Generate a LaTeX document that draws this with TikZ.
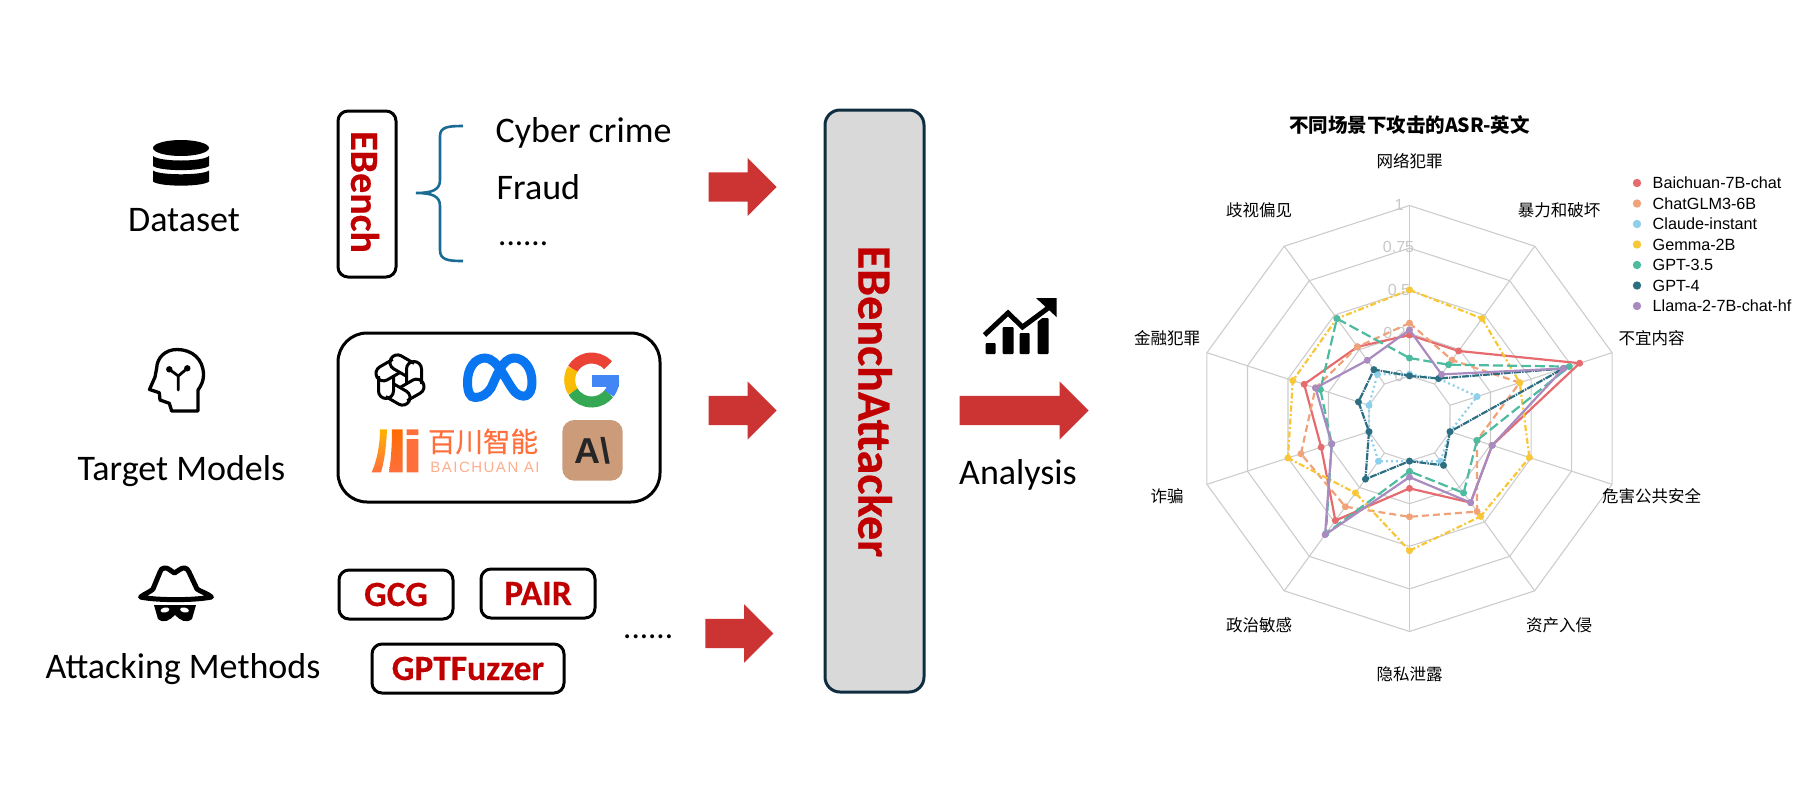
\documentclass[tikz,border=0pt]{standalone}
\usepackage{fontspec}
\setmainfont{Carlito}
\newfontfamily\cjk{Noto Sans CJK SC}
\newfontfamily\cjkmed[FakeBold=0.4]{Noto Sans CJK SC}
\newfontfamily\arial{Liberation Sans}
\usetikzlibrary{shapes.arrows, positioning, calc}

\definecolor{ebred}{HTML}{C00000}
\definecolor{arrowred}{HTML}{CC3333}
\definecolor{bracecol}{HTML}{1C6B94}
\definecolor{c1}{HTML}{E56B6F}
\definecolor{c2}{HTML}{F0A27A}
\definecolor{c3}{HTML}{8ECFE9}
\definecolor{c4}{HTML}{F7C737}
\definecolor{c5}{HTML}{4DBBA0}
\definecolor{c6}{HTML}{2E6E83}
\definecolor{c7}{HTML}{A98BBF}
\definecolor{metablue}{HTML}{0A75F0}
\definecolor{gred}{HTML}{EA4335}
\definecolor{gyellow}{HTML}{FBBC05}
\definecolor{ggreen}{HTML}{34A853}
\definecolor{gblue}{HTML}{4285F4}
\definecolor{bcorange}{HTML}{FF6F3C}
\definecolor{bclight}{HTML}{FFAD8C}
\definecolor{tile}{HTML}{CC9B7A}
\definecolor{blockedge}{HTML}{0F2D40}
\newcommand{\fsz}[1]{\fontsize{#1}{#1}\selectfont}
\newcommand{\heavy}{\bfseries\addfontfeature{FakeBold=0.5}}

\tikzset{
  txt/.style={font=\fsz{36}, inner sep=0pt},
  method/.style={draw, line width=3, rounded corners=10, text=ebred, font=\fsz{35.5}\bfseries\addfontfeature{FakeBold=0.3}, inner sep=0pt},
  blockarrow/.style={single arrow, fill=arrowred, inner sep=14.5, minimum width=58, single arrow head extend=14.5, single arrow tip angle=90, outer sep=0pt, anchor=tip},
  gridline/.style={draw=black!20, line width=1.1},
  radarlab/.style={font=\cjk\fsz{16.5}, inner sep=0pt},
  ticklab/.style={font=\arial\fsz{16}, text=black!22, inner sep=0pt},
  legtxt/.style={font=\arial\fsz{16.2}, anchor=west, inner sep=0pt},
  ser1/.style={c1, line width=2.2},
  ser2/.style={c2, line width=2.2, dash pattern=on 7pt off 4pt},
  ser3/.style={c3, line width=2.2, dash pattern=on 2pt off 3pt},
  ser4/.style={c4, line width=2.2, dash pattern=on 6pt off 2.5pt on 2pt off 2.5pt},
  ser5/.style={c5, line width=2.2, dash pattern=on 10pt off 4pt},
  ser6/.style={c6, line width=2.2, dash pattern=on 7pt off 1pt on 1.5pt off 1pt},
  ser7/.style={c7, line width=2.2}
}

% one series of the radar chart: style number, ten values
\newcommand{\radarline}[2]{
  \foreach \v [count=\i from 0] in {#2} {
    \coordinate (p\i) at ({90-36*\i}:{42.6+170.4*\v});
  }
  \draw[ser#1] (p0) -- (p1) -- (p2) -- (p3) -- (p4) -- (p5) -- (p6) -- (p7) -- (p8) -- (p9) -- cycle;
  \foreach \i in {0,...,9} {
    \fill[c#1] (p\i) circle (3.5);
  }
}

\begin{document}
\begin{tikzpicture}[x=1pt, y=-1pt]
\useasboundingbox (0,0) rectangle (1816,804);

% Dataset row
\fill (181,148) ellipse (28 and 8);
\fill (153,156) .. controls (160,162) and (202,162) .. (209,156) -- (209,166) .. controls (202,171.5) and (160,171.5) .. (153,166) -- cycle;
\fill (153,170.6) .. controls (160,175.5) and (202,175.5) .. (209,170.6) -- (209,181.6) .. controls (202,187) and (160,187) .. (153,181.6) -- cycle;
\node[txt] (dataset) at (184,220.5) {Dataset};
\draw[line width=3, rounded corners=10] (338,111) rectangle (396,277);
\node[font=\fsz{40}\heavy, text=ebred, rotate=-90, inner sep=0pt] (ebench) at (365,192) {EBench};
\draw[bracecol, line width=2.6] (463,126) .. controls (448,126) and (440,127) .. (440,136) -- (440,180)
  .. controls (440,190) and (432,193) .. (416,193) .. controls (432,193) and (440,196) .. (440,206) -- (440,250)
  .. controls (440,260) and (448,261) .. (463,261);
\node[txt, anchor=west] (cyber) at (495.5,133) {Cyber crime};
\node[txt, anchor=west] (fraud) at (496.5,187) {Fraud};
\node[font=\fsz{33}, anchor=base west, inner sep=0pt] (moreA) at (498,245) {......};

% Target models row
\draw[line width=3.3, line join=round] (198,411) -- (198,390) .. controls (201,386) and (203.5,381) .. (203.5,375)
  .. controls (203.5,359) and (192,349.5) .. (177,349.5) .. controls (165,349.5) and (157,358) .. (156.7,368)
  -- (155,377) -- (149.5,389.5) -- (159.3,392.7) -- (160,400) -- (169.3,403.3) -- (171.7,411) -- cycle;
\draw[line width=2.8, line cap=round] (178.3,390) -- (178.3,376) -- (169.3,369.3) (178.3,376) -- (187.3,368.3);
\fill (169.3,369.3) circle (3.2) (187.3,368.3) circle (3.2);
\node[txt] (target) at (181.5,471) {Target Models};
\draw[line width=3, rounded corners=29] (338,333) rectangle (660,502);

% logos
\foreach \a in {0,60,...,300} {
  \begin{scope}[shift={(400,380)}, rotate=\a, y=1pt]
    \draw[line width=3] (6.5,-3.8) -- (6.5,11) arc[start angle=180, end angle=0, radius=7.5] -- (21.5,-4);
  \end{scope}
}
\draw[line width=9, color=metablue, line cap=round] (475,397.5)
  .. controls (470,397.5) and (467.5,392) .. (467.5,382) .. controls (467.5,368) and (475,358) .. (485,358)
  .. controls (498,358) and (506,382) .. (515,392) .. controls (522,399) and (532,398) .. (532,382)
  .. controls (532,368) and (524,358) .. (514,358) .. controls (502,358) and (496,378) .. (491,388)
  .. controls (487,394) and (482,397.5) .. (475,397.5);
\begin{scope}[shift={(591.7,380)}, y=1pt]
  \draw[line width=11, color=gred] (42:22) arc[start angle=42, end angle=150, radius=22];
  \draw[line width=11, color=gyellow] (150:22) arc[start angle=150, end angle=212, radius=22];
  \draw[line width=11, color=ggreen] (212:22) arc[start angle=212, end angle=322, radius=22];
  \draw[line width=11, color=gblue] (322:22) arc[start angle=322, end angle=360, radius=22];
  \fill[gblue] (0,5) rectangle (27.5,-6.5);
\end{scope}
\path[top color=orange!60!yellow, bottom color=bcorange] (380,429.3) -- (387,429.3) .. controls (386,450) and (384,462) .. (381,472.3) -- (371.7,472.3) .. controls (377,460) and (380,445) .. (380,429.3) -- cycle;
\path[top color=orange!85!red, bottom color=bcorange] (392,429.3) -- (402.7,429.3) -- (402.7,472.3) -- (389,472.3) .. controls (391,460) and (392,445) .. (392,429.3) -- cycle;
\fill[bcorange] (406.7,429.3) rectangle (418.3,435) (406.7,439) rectangle (418.3,472.3);
\node[font=\cjkmed\fsz{27.5}, text=bcorange, inner sep=0pt] (baichuan) at (483,441.5) {百川智能};
\node[font=\arial\fsz{15}\addfontfeature{LetterSpace=10}, text=bclight, inner sep=0pt] (baichuanen) at (485,467) {BAICHUAN AI};
\fill[tile, rounded corners=12] (562.3,420) rectangle (622.7,480.7);
\node[font=\arial\fsz{36}\bfseries, text=black!85, inner sep=0pt] (anthropic) at (592.5,451) {A\textbackslash};

% Attacking methods row
\draw[line width=5, line join=round, line cap=round] (140.5,597) .. controls (146,593) and (150,592) .. (153,589) -- (160,572)
  .. controls (161,567) and (167,567) .. (170,570) -- (174.5,573) -- (179,570) .. controls (183,567) and (187,567) .. (189,572)
  -- (197,589) .. controls (201,592) and (207,593) .. (211.5,597) .. controls (195,600.5) and (156,600.5) .. (140.5,597) -- cycle;
\fill (154,605) -- (196,605) -- (192,619) .. controls (186,624) and (180,620) .. (175,615)
  .. controls (170,620) and (164,624) .. (158,619) -- cycle;
\fill[white, rotate around={12:(165,610)}] (165,610) ellipse (4.5 and 2.5);
\fill[white, rotate around={-12:(184.5,610)}] (184.5,610) ellipse (4.5 and 2.5);
\node[txt] (attacking) at (183,669) {Attacking Methods};
\node[method, minimum width=114, minimum height=49] (gcg) at (396,594.5) {GCG};
\node[method, minimum width=114, minimum height=49] (pair) at (538,593.5) {PAIR};
\node[method, minimum width=192, minimum height=49] (fuzzer) at (468,668.5) {GPTFuzzer};
\node[font=\fsz{33}, anchor=base west, inner sep=0pt] (moreB) at (623,638) {......};

% Centre block and arrows
\node[draw=blockedge, fill=black!15, line width=3, rounded corners=15, minimum width=99, minimum height=582] (attacker) at (874.5,401) {};
\node[font=\fsz{48}\heavy, text=ebred, rotate=-90, inner sep=0pt] (attackerlab) at (875,401.5) {EBenchAttacker};
\node[blockarrow, minimum height=68] (arrowA) at (776.7,187) {};
\node[blockarrow, minimum height=68] (arrowB) at (776.7,410.5) {};
\node[blockarrow, minimum height=68] (arrowC) at (773.3,633.5) {};
\node[blockarrow, minimum height=129] (arrowD) at (1088.7,410.5) {};

% Analysis
\begin{scope}[xshift=-2.5pt]
  \fill[rounded corners=1] (988,343) rectangle (998,354) (1005,327) rectangle (1016,354) (1022,333) rectangle (1032,354) (1040,318) rectangle (1051,354);
  \draw[white, line width=9] (987,335) -- (1010.5,313) -- (1025,327) -- (1052,307);
  \draw[line width=5] (987,335) -- (1010.5,313) -- (1025,327) -- (1052,307);
  \fill (1038.5,298) -- (1059,298) -- (1059,317) -- cycle;
\end{scope}
\node[txt] (analysis) at (1018,474.5) {Analysis};

% Radar chart
\node[font=\cjk\fsz{19.5}\bfseries, inner sep=0pt] (title) at (1409.5,124.5) {不同场景下攻击的ASR-英文};
\begin{scope}[shift={(1409.5,418.5)}, y=1pt]
  \foreach \v in {0,0.25,0.5,0.75,1} {
    \pgfmathsetmacro{\r}{42.6+170.4*\v}
    \draw[gridline] (90:\r) -- (54:\r) -- (18:\r) -- (-18:\r) -- (-54:\r) -- (-90:\r) -- (-126:\r) -- (-162:\r) -- (162:\r) -- (126:\r) -- cycle;
  }
  \foreach \a in {0,36,...,324} {
    \draw[gridline] ({90-\a}:42.6) -- ({90-\a}:213);
  }
  % axis values
  \node[ticklab] (t100) at (-10.5,214) {1};
  \node[ticklab] (t75) at (-11,171.5) {0.75};
  \node[ticklab] (t50) at (-10.5,128.5) {0.5};
  \node[ticklab] (t25) at (-10.5,86) {0.25};
  \node[ticklab] (t00) at (-10.5,43) {0};
  % series
  \radarline{1}{.24,.24,.80,.26,.36,.16,.49,.295,.40,.27}
  \radarline{2}{.31,.174,.43,.166,.425,.327,.39,.42,.33,.27}
  \radarline{3}{.01,.04,.167,0,.06,0,.06,0,0,.07}
  \radarline{4}{.505,.475,.43,.49,.46,.526,.29,.50,.47,.475}
  \radarline{5}{.105,.14,.736,.166,.29,.06,.585,.23,.30,.475}
  \radarline{6}{0,.04,.70,0,.09,0,.19,0,.065,.105}
  \radarline{7}{.27,.07,.70,.26,.36,.094,.593,.23,.33,.172}
\end{scope}

% axis labels
\node[radarlab] (l0) at (1409.5,161) {网络犯罪};
\node[radarlab] (l1) at (1559,210.5) {暴力和破坏};
\node[radarlab] (l2) at (1651.5,338) {不宜内容};
\node[radarlab] (l3) at (1651.5,496) {危害公共安全};
\node[radarlab] (l4) at (1559,625) {资产入侵};
\node[radarlab] (l5) at (1409.5,674) {隐私泄露};
\node[radarlab] (l6) at (1259,625) {政治敏感};
\node[radarlab] (l7) at (1167,496) {诈骗};
\node[radarlab] (l8) at (1167,338) {金融犯罪};
\node[radarlab] (l9) at (1259,210.5) {歧视偏见};

% legend
\foreach \n/\lab [count=\k from 0] in {1/Baichuan-7B-chat,2/ChatGLM3-6B,3/Claude-instant,4/Gemma-2B,5/GPT-3.5,6/GPT-4,7/Llama-2-7B-chat-hf} {
  \fill[c\n] (1637,{183+20.5*\k}) circle (4.2);
  \node[legtxt] (leg\n) at (1652.5,{183+20.5*\k}) {\lab};
}
\end{tikzpicture}
\end{document}
